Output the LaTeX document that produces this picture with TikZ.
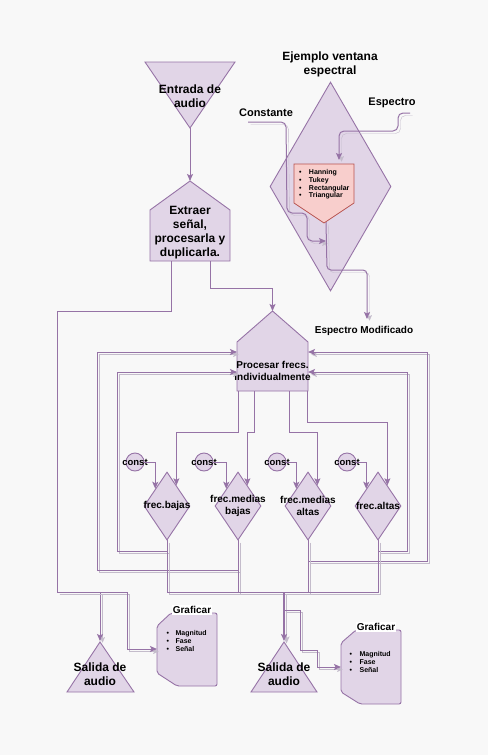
\documentclass[tikz,border=0pt]{standalone}
\usepackage{fontspec}
\setmainfont{Liberation Sans}
\usetikzlibrary{arrows.meta,calc,shapes.geometric}

\definecolor{lila}{HTML}{E1D5E7}
\definecolor{borde}{HTML}{9673A6}
\definecolor{rosa}{HTML}{F8CECC}
\definecolor{rojo}{HTML}{B85450}
\definecolor{fondo}{HTML}{F8F8F8}
\definecolor{gris}{HTML}{C4BCCB}

\tikzset{
  forma/.style={fill=lila,draw=borde,line width=0.9pt},
  linea/.style={draw=borde,line width=1pt},
  flecha/.style={linea,-{Stealth[length=7pt,width=6pt,inset=1.5pt]}},
  sombra/.style={preaction={draw=gris,transform canvas={xshift=2.5pt,yshift=-2.5pt}}},
  rombo/.style={forma,diamond,minimum width=46pt,minimum height=68pt,inner sep=0pt},
  circ/.style={forma,circle,minimum size=18pt,inner sep=0pt},
  titulo/.style={font=\bfseries\fontsize{12}{13.5}\selectfont,align=center,inner sep=0pt},
  texto/.style={font=\bfseries\fontsize{10}{12}\selectfont,align=center,inner sep=0pt},
  rotulo/.style={font=\bfseries\fontsize{11}{13}\selectfont,inner sep=0pt},
  item/.style={font=\bfseries\fontsize{7}{7.8}\selectfont,align=left,anchor=west,inner sep=0pt},
}

\begin{document}
\begin{tikzpicture}[x=1pt,y=-1pt]

    % Fondo y margenes
    \fill[fondo] (0,0) rectangle (488,755);
    \useasboundingbox (0,0) rectangle (488,755);

    % Entrada de audio (triangulo invertido)
    \draw[forma] (145,62) -- (235,62) -- (190,128) -- cycle;
    \coordinate (entrada) at (190,128);
    \node[titulo] (entrada-txt) at (190,96) {Entrada de\\audio};

    % Extraer senal
    \draw[forma] (190,181) -- (230,210) -- (230,261) -- (150,261) -- (150,210) -- cycle;
    \coordinate (extraer) at (190,181);
    \coordinate (extraer-i) at (171,261);
    \coordinate (extraer-d) at (210,261);
    \node[titulo,font=\bfseries\fontsize{12}{14}\selectfont] (extraer-txt) at (190,233) {Extraer\\se\~nal,\\procesarla y\\duplicarla.};

    % Procesar frecuencias
    \draw[forma] (272.5,311) -- (308,342) -- (308,391) -- (237,391) -- (237,342) -- cycle;
    \coordinate (procesar) at (272.5,311);
    \coordinate (proc-s1) at (238,391);
    \coordinate (proc-s2) at (254,391);
    \coordinate (proc-s3) at (289,391);
    \coordinate (proc-s4) at (307,391);
    \coordinate (proc-o1) at (237,352);
    \coordinate (proc-o2) at (237,372);
    \coordinate (proc-e1) at (308,352);
    \coordinate (proc-e2) at (308,372);
    \node[texto] (procesar-txt) at (272.5,371) {Procesar frecs.\\individualmente};

    % Bandas de frecuencia
    \node[rombo] (bajas) at (167,506) {};
    \node[rombo] (mbajas) at (238,506) {};
    \node[rombo] (maltas) at (308,506) {};
    \node[rombo] (altas) at (378,506) {};
    \node[texto] (bajas-txt) at (bajas) {frec.bajas};
    \node[texto] (mbajas-txt) at (mbajas) {frec.medias\\bajas};
    \node[texto] (maltas-txt) at (maltas) {frec.medias\\altas};
    \node[texto] (altas-txt) at (altas) {frec.altas};

    % Constantes
    \node[circ] (c1) at (135,462) {};
    \node[circ] (c2) at (204,462) {};
    \node[circ] (c3) at (277,462) {};
    \node[circ] (c4) at (347,462) {};
    \foreach \c in {c1,c2,c3,c4}
        \node[texto,font=\bfseries\fontsize{9.5}{11}\selectfont] (\c-txt) at (\c) {const};

    % Salidas de audio
    \draw[forma] (100,642) -- (134,692) -- (67,692) -- cycle;
    \coordinate (salida1) at (100,641);
    \node[titulo] (salida1-txt) at (100,674) {Salida de\\audio};
    \draw[forma] (284,642) -- (317,692) -- (251,692) -- cycle;
    \coordinate (salida2) at (284,641);
    \node[titulo] (salida2-txt) at (284,674) {Salida de\\audio};

    % Graficar
    \draw[forma,rounded corners=2pt] (157,626) -- (171,613) -- (217,613) -- (217,686) -- (177,686) -- (157,673) -- cycle;
    \coordinate (graf1) at (157,649);
    \node[texto,fill=white,inner sep=1pt] (graf1-txt) at (192,610) {Graficar};
    \node[item] (graf1-lista) at (166.5,641) {\textbullet\hspace{6.5pt}Magnitud\\\textbullet\hspace{6.5pt}Fase\\\textbullet\hspace{6.5pt}Se\~nal};
    \draw[forma,rounded corners=2pt] (341,643) -- (356,630) -- (401,630) -- (401,704) -- (360,704) -- (341,692) -- cycle;
    \coordinate (graf2) at (341,667);
    \node[texto,fill=white,inner sep=1pt] (graf2-txt) at (376,627) {Graficar};
    \node[item] (graf2-lista) at (349.5,662) {\textbullet\hspace{7.5pt}Magnitud\\\textbullet\hspace{7.5pt}Fase\\\textbullet\hspace{7.5pt}Se\~nal};

    % Ejemplo ventana espectral
    \node[forma,diamond,minimum width=121pt,minimum height=209pt,inner sep=0pt] (ventana) at (330.5,186.5) {};
    \node[titulo,font=\bfseries\fontsize{12}{14}\selectfont] (ventana-txt) at (330,64) {Ejemplo ventana\\espectral};
    \node[rotulo] (constante) at (266,113) {Constante};
    \node[rotulo] (espectro) at (392,103) {Espectro};
    \node[texto] (esp-mod-txt) at (364,331) {Espectro Modificado};
    \coordinate (cte-ini) at (248,122);
    \coordinate (esp-ini) at (410,113);
    \coordinate (ventana-in) at (326,241);
    \coordinate (filtro-n) at (339,160);
    \coordinate (filtro-s) at (326,222);
    \coordinate (esp-mod) at (367,319);

    % Puntos de llegada en los rombos
    \foreach \r in {bajas,mbajas,maltas,altas} {
        \coordinate (\r-a) at ($(\r.north)!.4!(\r.east)$);
        \coordinate (\r-c) at ($(\r.north)!.5!(\r.west)$);
    }
    \coordinate (nudo1) at (57,592);
    \coordinate (nudo2) at (284,592);

    % Flujo principal
    \draw[flecha] (entrada) -- (extraer);
    \draw[flecha] (extraer-d) -- (210,288) -| (procesar);
    \draw[linea] (extraer-i) -- (171,311) -| (nudo1);
    \draw[flecha,sombra] (nudo1) -| (salida1);
    \draw[flecha,sombra] (nudo1) -- (127,592) -- (127,649) -- (graf1);

    % Procesar -> bandas
    \draw[flecha] (proc-s1) -- (238,432) -| (bajas-a);
    \draw[flecha] (proc-s2) -- (254,432) -| (mbajas-a);
    \draw[flecha] (proc-s3) -- (289,432) -| (maltas-a);
    \draw[flecha] (proc-s4) -- (307,422) -| (altas-a);

    % Constantes -> bandas
    \draw[flecha] (c1.east) -| (bajas-c);
    \draw[flecha] (c2.east) -| (mbajas-c);
    \draw[flecha] (c3.east) -| (maltas-c);
    \draw[flecha] (c4.east) -| (altas-c);

    % Realimentacion
    \draw[flecha,sombra] (bajas.south) -- (167,551) -- (117,551) |- (proc-o2);
    \draw[flecha,sombra] (mbajas.south) -- (238,570) -- (97,570) |- (proc-o1);
    \draw[flecha,sombra] (maltas.south) -- (308,561) -- (427,561) |- (proc-e1);
    \draw[flecha,sombra] (altas.south) -- (378,551) -- (407,551) |- (proc-e2);

    % Bandas -> salida 2
    \draw[linea,sombra] (bajas.south) |- (nudo2);
    \draw[linea,sombra] (mbajas.south) |- (nudo2);
    \draw[linea,sombra] (maltas.south) |- (nudo2);
    \draw[linea,sombra] (altas.south) |- (nudo2);
    \draw[flecha,sombra,line width=2pt] (nudo2) -- (salida2);
    \draw[flecha,sombra] (nudo2) -- (284,610) -- (300,610) -- (300,650) -- (317,650) -- (317,667) -- (graf2);

    % Conectores de la ventana
    \draw[flecha,sombra,rounded corners=5pt] (cte-ini) -- (286,122) -- (287,213) -- (307,213) -- (307,241) -- (ventana-in);
    \draw[flecha,sombra,rounded corners=5pt] (esp-ini) -- (398,113) -- (398,131) -- (339,131) -- (filtro-n);
    \draw[flecha,sombra,rounded corners=4pt] (filtro-s) -- (327,270) -- (367,270) -- (esp-mod);

    % Filtro (ventanas)
    \draw[fill=rosa,draw=rojo,line width=0.8pt] (294,164) -- (354,164) -- (354,203) -- (324,223) -- (294,203) -- cycle;
    \node[item] (ventanas) at (298.8,184.5) {\textbullet\hspace{7.5pt}Hanning\\\textbullet\hspace{7.5pt}Tukey\\\textbullet\hspace{7.5pt}Rectangular\\\textbullet\hspace{7.5pt}Triangular};

\end{tikzpicture}
\end{document}
